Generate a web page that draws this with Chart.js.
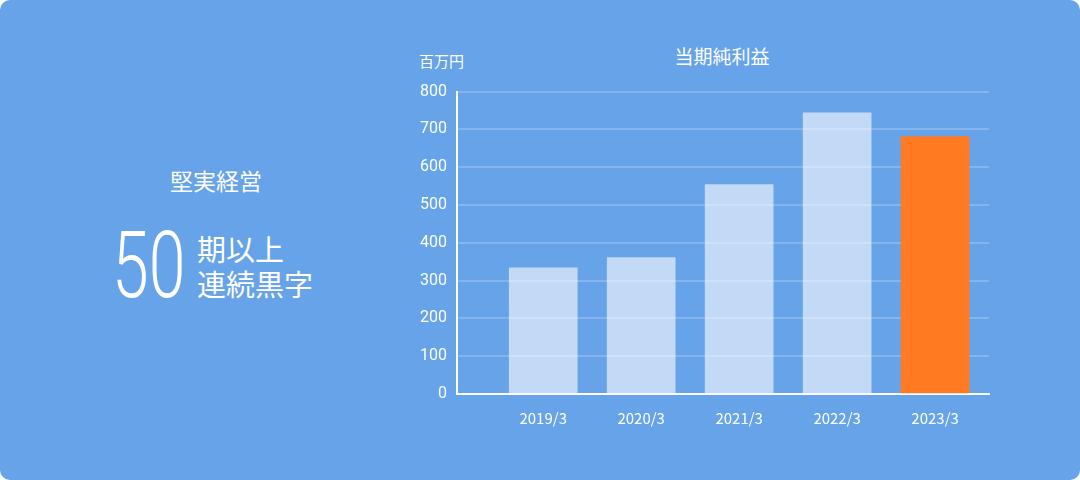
<!DOCTYPE html>
<html lang="ja">
<head>
<meta charset="utf-8">
<script src="https://cdn.jsdelivr.net/npm/chart.js@4"></script>
<style>
  html, body { margin: 0; padding: 0; background: #fff; }
  .card {
    position: relative; width: 1080px; height: 480px;
    background: #66a3e9; border-radius: 10px; overflow: hidden;
    font-family: 'Noto Sans CJK JP', 'Noto Sans', sans-serif; color: #fff;
  }
  .lead { position: absolute; left: 116px; width: 200px; top: 165px; text-align: center; font-size: 23px; line-height: 30px; }
  .big { position: absolute; left: 112px; top: 216px; font-family: Roboto, sans-serif; font-weight: 300; font-size: 92px; line-height: 100px; transform: scaleX(0.72); transform-origin: left top; }
  .sub { position: absolute; left: 197px; top: 231px; font-size: 29px; line-height: 35px; }
  .title { position: absolute; left: 622px; width: 200px; top: 43px; text-align: center; font-size: 19px; line-height: 26px; }
  .unit { position: absolute; left: 419px; top: 50px; font-size: 15px; line-height: 22px; }
  #wrap { position: absolute; left: 380px; top: 72px; width: 620px; height: 368px; }
</style>
</head>
<body>
<div class="card">
  <div class="lead">堅実経営</div>
  <div class="big">50</div>
  <div class="sub">期以上<br>連続黒字</div>
  <div class="title">当期純利益</div>
  <div class="unit">百万円</div>
  <div id="wrap"><canvas id="c"></canvas></div>
</div>
<script>
// 当期純利益 (百万円)
var years = ['2019/3', '2020/3', '2021/3', '2022/3', '2023/3'];
var profit = [334, 361, 554, 744, 681];
var yTicks = [0, 100, 200, 300, 400, 500, 600, 700, 800];

var barColors = years.map(function (y, i) {
  return i === years.length - 1 ? '#ff7a21' : 'rgba(255,255,255,0.6)';
});

Chart.defaults.font.family = "'Noto Sans CJK JP', 'Noto Sans', sans-serif";
Chart.defaults.color = '#fff';

new Chart(document.getElementById('c'), {
  type: 'bar',
  data: {
    datasets: [{
      data: profit.map(function (v, i) { return { x: i, y: v }; }),
      backgroundColor: barColors,
      borderWidth: 0,
      barThickness: 68
    }]
  },
  options: {
    responsive: true,
    maintainAspectRatio: false,
    animation: false,
    layout: { padding: { top: 11, right: 11, bottom: 0, left: 0 } },
    plugins: { legend: { display: false }, tooltip: { enabled: false } },
    scales: {
      x: {
        type: 'linear',
        offset: false,
        min: -0.88,
        max: 4.55,
        grid: { display: false, offset: false },
        border: { color: '#fff', width: 2 },
        afterBuildTicks: function (s) {
          s.ticks = years.map(function (y, i) { return { value: i }; });
        },
        afterFit: function (s) { s.height = 46; },
        ticks: {
          padding: 7,
          font: { size: 15 },
          callback: function (v) { return years[v]; }
        }
      },
      y: {
        min: 0,
        max: 800,
        grid: { color: 'rgba(255,255,255,0.2)', lineWidth: 2, drawTicks: false },
        border: { color: '#fff', width: 2 },
        afterBuildTicks: function (s) {
          s.ticks = yTicks.map(function (v) { return { value: v }; });
        },
        afterFit: function (s) { s.width = 77; },
        ticks: { padding: 10, font: { family: 'Roboto, sans-serif', size: 16 } }
      }
    }
  }
});
</script>
</body>
</html>
